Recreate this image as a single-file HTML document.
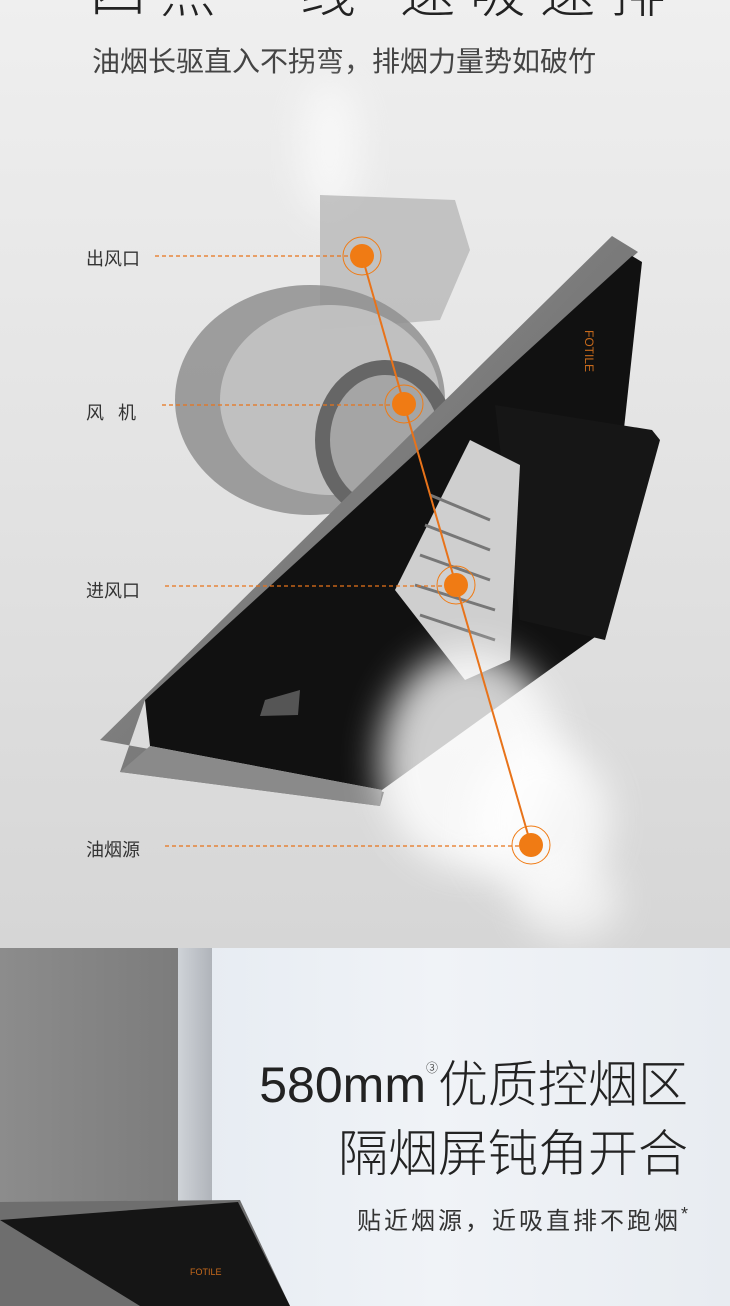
<!DOCTYPE html>
<html><head><meta charset="utf-8"><style>
body{margin:0;width:730px;height:1306px;overflow:hidden;position:relative;font-family:"Liberation Sans","Noto Sans CJK SC",sans-serif}
.top{position:absolute;left:0;top:0;width:730px;height:948px;background:linear-gradient(180deg,#efefef 0%,#e3e3e3 50%,#d6d6d6 100%)}
.t{position:absolute;white-space:nowrap;color:#333}
.bot{position:absolute;left:0;top:948px;width:730px;height:358px;background:linear-gradient(90deg,#dfe6ee 0%,#f0f3f7 60%,#e8ecf1 100%)}
</style></head><body>
<div class="top"></div>
<div class="t" style="left:90px;top:-52px;font-size:56px;letter-spacing:14px;color:#222;font-weight:300">四点一线 速吸速排</div>
<div class="t" style="left:92px;top:40px;font-size:28px;color:#444">油烟长驱直入不拐弯，排烟力量势如破竹</div>
<svg style="position:absolute;left:0;top:0" width="730" height="948">
<defs>
<filter id="b" x="-50%" y="-50%" width="200%" height="200%"><feGaussianBlur stdDeviation="18"/></filter>
<linearGradient id="st" x1="0" y1="0" x2="1" y2="1"><stop offset="0" stop-color="#9a9a9a"/><stop offset="1" stop-color="#5a5a5a"/></linearGradient>
</defs>
<ellipse cx="330" cy="150" rx="30" ry="70" fill="#fff" opacity=".6" filter="url(#b)"/>
<polygon points="320,195 455,200 470,250 440,320 320,330" fill="#b8b8b8" opacity=".8"/>
<ellipse cx="310" cy="400" rx="135" ry="115" fill="#8f8f8f" opacity=".85"/>
<ellipse cx="330" cy="400" rx="110" ry="95" fill="#c9c9c9" opacity=".8"/>
<ellipse cx="385" cy="440" rx="70" ry="80" fill="#666"/>
<ellipse cx="385" cy="440" rx="55" ry="65" fill="#a5a5a5"/>
<polygon points="100,740 612,236 638,252 145,700 120,772 380,806 384,792" fill="url(#st)"/>
<polygon points="145,700 632,256 642,262 602,632 382,790 150,746" fill="#111"/>
<polygon points="120,772 150,746 382,790 380,806" fill="#8a8a8a"/>
<polygon points="495,405 652,430 660,440 605,640 520,620" fill="#161616"/>
<polygon points="470,440 520,465 510,660 465,680 395,590" fill="#cfcfcf"/>
<g stroke="#777" stroke-width="3">
<line x1="430" y1="495" x2="490" y2="520"/><line x1="425" y1="525" x2="490" y2="550"/><line x1="420" y1="555" x2="490" y2="580"/><line x1="415" y1="585" x2="495" y2="610"/><line x1="420" y1="615" x2="495" y2="640"/>
</g>
<polygon points="265,700 300,690 298,715 260,716" fill="#555"/>
<text x="585" y="330" font-size="12" fill="#c86a1c" transform="rotate(90 585 330)">FOTILE</text>
<ellipse cx="470" cy="760" rx="90" ry="110" fill="#fff" opacity=".8" filter="url(#b)"/>
<ellipse cx="540" cy="820" rx="70" ry="80" fill="#fff" opacity=".75" filter="url(#b)"/>
<ellipse cx="570" cy="900" rx="50" ry="40" fill="#fff" opacity=".6" filter="url(#b)"/>
<polyline points="362,256 404,404 456,585 531,845" fill="none" stroke="#e8731a" stroke-width="2"/>
<g stroke="#e8731a" stroke-width="1.3" stroke-dasharray="4,3">
<line x1="155" y1="256" x2="350" y2="256"/><line x1="162" y1="405" x2="392" y2="405"/><line x1="165" y1="586" x2="444" y2="586"/><line x1="165" y1="846" x2="519" y2="846"/>
</g>
<g fill="#f07b14" stroke="#f07b14">
<circle cx="362" cy="256" r="12" stroke="none"/><circle cx="362" cy="256" r="19" fill="none" stroke-width="1"/>
<circle cx="404" cy="404" r="12" stroke="none"/><circle cx="404" cy="404" r="19" fill="none" stroke-width="1"/>
<circle cx="456" cy="585" r="12" stroke="none"/><circle cx="456" cy="585" r="19" fill="none" stroke-width="1"/>
<circle cx="531" cy="845" r="12" stroke="none"/><circle cx="531" cy="845" r="19" fill="none" stroke-width="1"/>
</g>
</svg>
<div class="t" style="left:86px;top:245px;font-size:18px">出风口</div>
<div class="t" style="left:86px;top:399px;font-size:18px;letter-spacing:14px">风机</div>
<div class="t" style="left:86px;top:577px;font-size:18px">进风口</div>
<div class="t" style="left:86px;top:836px;font-size:18px">油烟源</div>
<div class="bot"></div>
<div style="position:absolute;left:0;top:948px;width:178px;height:358px;background:linear-gradient(90deg,#8c8c8c,#7c7c7c)"></div>
<div style="position:absolute;left:178px;top:948px;width:34px;height:358px;background:linear-gradient(90deg,#cfd3d8,#b0b4ba)"></div>
<svg style="position:absolute;left:0;top:1190px" width="300" height="116">
<polygon points="0,12 240,10 290,116 0,116" fill="#6e6e6e"/>
<polygon points="0,30 238,12 290,116 140,116" fill="#151515"/>
<text x="190" y="85" font-size="9" fill="#c86a1c">FOTILE</text>
</svg>
<div class="t" style="right:42px;top:1045px;font-size:50px;color:#222;font-weight:300">580mm<sup style="font-size:12px;vertical-align:30px">③</sup>优质控烟区</div>
<div class="t" style="right:42px;top:1114px;font-size:50px;color:#222;font-weight:300">隔烟屏钝角开合</div>
<div class="t" style="right:42px;top:1201px;font-size:24px;color:#333;letter-spacing:3px">贴近烟源，近吸直排不跑烟<sup style="font-size:18px;letter-spacing:0">*</sup></div>
</body></html>
